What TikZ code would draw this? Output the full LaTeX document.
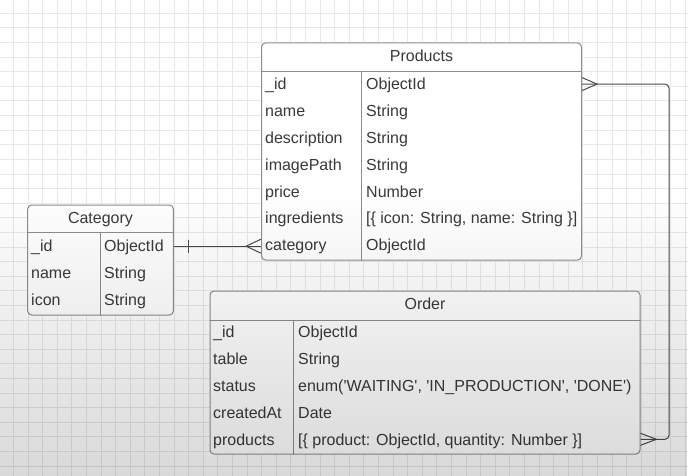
\documentclass[tikz,border=0pt]{standalone}
\usepackage{fontspec}
\setsansfont{Liberation Sans}
\renewcommand{\familydefault}{\sfdefault}
\usetikzlibrary{positioning,calc,fadings}
\definecolor{ink}{HTML}{3A3A3A}
\definecolor{frame}{HTML}{8E8E8E}
\definecolor{wire}{HTML}{4A4A4A}
\definecolor{gridgray}{HTML}{E8E8E8}
\tikzfading[name=fade down, top color=transparent!100, bottom color=transparent!0]

\begin{document}
\begin{tikzpicture}[x=1pt,y=-1pt,
   entity/.style={draw=frame,line width=1pt,fill=white,rounded corners=4pt,inner sep=0pt},
   rule/.style={draw=frame,line width=1pt},
   headtext/.style={text=ink,font=\fontsize{16}{19}\selectfont,inner sep=0pt,text height=11.5pt,text depth=0pt},
   field/.style={headtext,anchor=west},
   link/.style={draw=wire,line width=1pt},
   gridline/.style={draw=gridgray,line width=0.8pt}]
   \useasboundingbox (0,0) rectangle (688,476);
   \fill[white] (0,0) rectangle (688,476);
   % background grid
   \foreach \k in {0,...,46}
     \draw[gridline] (13.3+14.6*\k,0) -- (13.3+14.6*\k,476);
   \foreach \k in {0,...,31}
     \draw[gridline] (0,13.3+14.6*\k) -- (688,13.3+14.6*\k);

   % Products
   \node[entity,minimum width=320pt,minimum height=217pt] (products) at (421.5,151.5) {};
   \node[headtext] (products-head) at (421.5,56) {Products};
   \draw[rule] ([yshift=-29.5pt]products.north west) -- ([yshift=-29.5pt]products.north east);
   \draw[rule] ([xshift=100.5pt,yshift=-29.5pt]products.north west) -- ([xshift=100.5pt]products.south west);
   \foreach \f/\t [count=\i] in {\_id/ObjectId, name/String, description/String, imagePath/String,
       price/Number, ingredients/{[\{ icon: String, name: String \}]}, category/ObjectId} {
     \node[field] (p-n\i) at (265,57.3+26.8*\i) {\f};
     \node[field] (p-t\i) at (366,57.3+26.8*\i) {\t};
   }

   % Category
   \node[entity,minimum width=145.6pt,minimum height=110pt] (category) at (100.5,260) {};
   \node[headtext] (category-head) at (100.5,218) {Category};
   \draw[rule] ([yshift=-28.3pt]category.north west) -- ([yshift=-28.3pt]category.north east);
   \draw[rule] ([xshift=73pt,yshift=-28.3pt]category.north west) -- ([xshift=73pt]category.south west);
   \foreach \f/\t [count=\i] in {\_id/ObjectId, name/String, icon/String} {
     \node[field] (c-n\i) at (31,219.5+26.7*\i) {\f};
     \node[field] (c-t\i) at (104,219.5+26.7*\i) {\t};
   }

   % Order
   \node[entity,minimum width=430pt,minimum height=163pt] (order) at (425,372.5) {};
   \node[headtext] (order-head) at (425,304) {Order};
   \draw[rule] ([yshift=-29.7pt]order.north west) -- ([yshift=-29.7pt]order.north east);
   \draw[rule] ([xshift=84.3pt,yshift=-29.7pt]order.north west) -- ([xshift=84.3pt]order.south west);
   \foreach \f/\t [count=\i] in {\_id/ObjectId, table/String,
       status/{enum(\textquotesingle WAITING\textquotesingle, \textquotesingle IN\_PRODUCTION\textquotesingle, \textquotesingle DONE\textquotesingle)},
       createdAt/Date, products/{[\{ product: ObjectId, quantity: Number \}]}} {
     \node[field] (o-n\i) at (213,304.8+26.9*\i) {\f};
     \node[field] (o-t\i) at (298,304.8+26.9*\i) {\t};
   }

   % Category -- Products
   \coordinate (cat-one) at (category.east |- c-n1);
   \coordinate (cat-many) at (products.west |- c-n1);
   \draw[link] (cat-one) -- (cat-many);
   \draw[link] ([xshift=15pt,yshift=6.5pt]cat-one) -- ([xshift=15pt,yshift=-6.5pt]cat-one);
   \draw[link] ([yshift=7pt]cat-many) -- ([xshift=-15pt]cat-many) -- ([yshift=-7pt]cat-many);

   % Products -- Order
   \coordinate (prod-many) at (products.east |- p-n1);
   \coordinate (order-many) at (order.east |- o-n5);
   \draw[link,rounded corners=4pt] (prod-many) -- ++(87,0) |- (order-many);
   \draw[link] ([yshift=6.5pt]prod-many) -- ([xshift=15pt]prod-many) -- ([yshift=-6.5pt]prod-many);
   \draw[link] ([yshift=6pt]order-many) -- ([xshift=16pt]order-many) -- ([yshift=-6pt]order-many);

   % darker lower part
   \fill[black,fill opacity=0.15,path fading=fade down] (0,190) rectangle (688,476);
\end{tikzpicture}
\end{document}
